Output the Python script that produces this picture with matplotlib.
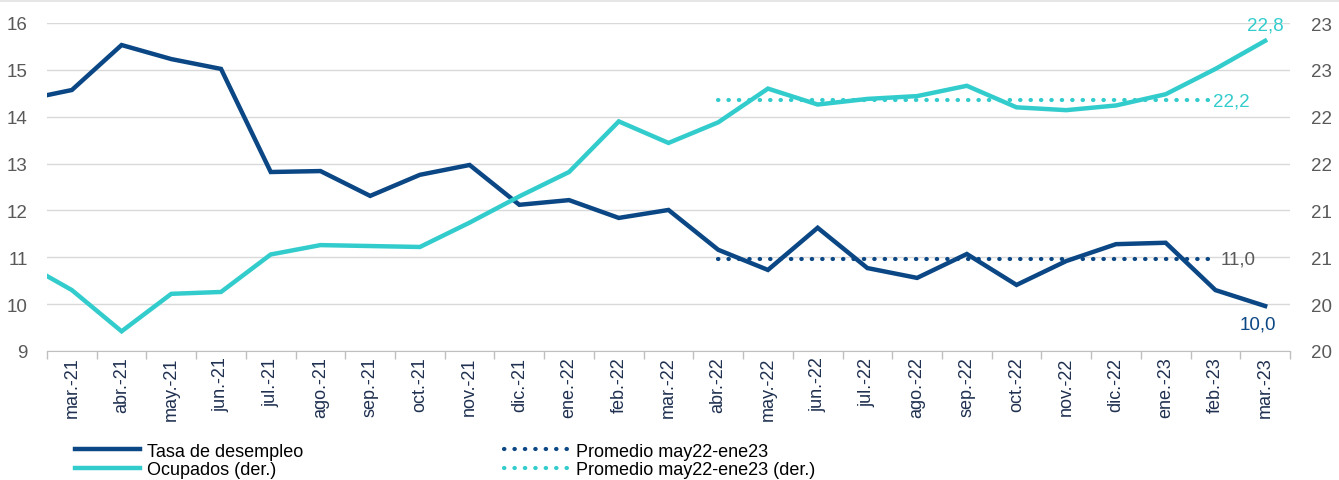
import numpy as np
import matplotlib
matplotlib.use("Agg")
import matplotlib.pyplot as plt
from matplotlib.ticker import FixedLocator, FuncFormatter
from matplotlib.patches import Rectangle

plt.rcParams['font.family'] = ['Liberation Sans', 'DejaVu Sans']

# months (feb.-21 is only the clipped start of the lines at the left edge)
meses = ["feb.-21", "mar.-21", "abr.-21", "may.-21", "jun.-21", "jul.-21", "ago.-21",
         "sep.-21", "oct.-21", "nov.-21", "dic.-21", "ene.-22", "feb.-22", "mar.-22",
         "abr.-22", "may.-22", "jun.-22", "jul.-22", "ago.-22", "sep.-22", "oct.-22",
         "nov.-22", "dic.-22", "ene.-23", "feb.-23", "mar.-23"]

# unemployment rate (%), left axis
desempleo = [14.35, 14.57, 15.53, 15.23, 15.02, 12.82, 12.84, 12.31, 12.76, 12.97,
             12.12, 12.22, 11.84, 12.01, 11.16, 10.73, 11.63, 10.77, 10.56, 11.07,
             10.41, 10.92, 11.28, 11.31, 10.30, 9.96]

# employed (millions), right axis
ocupados = [20.45, 20.15, 19.71, 20.11, 20.13, 20.53, 20.63, 20.62, 20.61, 20.87,
            21.15, 21.41, 21.95, 21.72, 21.94, 22.30, 22.13, 22.19, 22.22, 22.33,
            22.10, 22.07, 22.12, 22.24, 22.51, 22.81]

# averages may22-ene23, drawn from abr.-22 to feb.-23
prom_desempleo = 10.96
prom_ocupados = 22.18
prom_desde, prom_hasta = "abr.-22", "feb.-23"

azul = "#0b4784"
celeste = "#33cccc"
gris = "#595959"

fig = plt.figure(figsize=(13.39, 4.81), dpi=100)
ax = fig.add_axes([47/1339, 1-352/481, (1290-47)/1339, (352-24)/481])
ax2 = ax.twinx()

x = np.arange(len(meses))
i0, i1 = meses.index(prom_desde), meses.index(prom_hasta)

l1, = ax.plot(x, desempleo, color=azul, lw=3.2, solid_joinstyle='miter', zorder=3)
l3, = ax.plot([i0, i1], [prom_desempleo]*2, color=azul, lw=3,
              linestyle=(0, (0.1, 2.4)), dash_capstyle='round', zorder=2)
l2, = ax2.plot(x, ocupados, color=celeste, lw=3.2, solid_joinstyle='miter', zorder=3)
l4, = ax2.plot([i0, i1], [prom_ocupados]*2, color=celeste, lw=3,
               linestyle=(0, (0.1, 2.4)), dash_capstyle='round', zorder=2)

ax.set_xlim(0.5, len(meses) - 0.5)
ax.set_ylim(9, 16)
ax2.set_ylim(19.5, 23)
ax.set_yticks(np.arange(9, 17, 1))
ax2.set_yticks(np.arange(19.5, 23.01, 0.5))
ax2.yaxis.set_major_formatter(FuncFormatter(lambda v, p: "%d" % int(np.floor(v + 0.5))))

ax.grid(axis='y', color='#d9d9d9', lw=1)
ax.set_axisbelow(True)

# ticks between categories, labels at category centres
ax.xaxis.set_major_locator(FixedLocator(np.arange(0.5, len(meses), 1)))
ax.xaxis.set_major_formatter(FuncFormatter(lambda v, p: ""))
ax.xaxis.set_minor_locator(FixedLocator(x[1:]))
ax.set_xticklabels(meses[1:], minor=True, rotation=90, fontsize=13, color='#1f3050')
ax.tick_params(axis='x', which='major', length=6, color='#bfbfbf', width=1)
ax.tick_params(axis='x', which='minor', length=0, pad=4)
ax.tick_params(axis='y', length=0, labelsize=13.5, labelcolor=gris, pad=14)
ax2.tick_params(axis='y', length=0, labelsize=13.5, labelcolor=gris, pad=15)

for a in (ax, ax2):
    for s in ('top', 'left', 'right'):
        a.spines[s].set_visible(False)
ax.spines['bottom'].set_color('#bfbfbf')
ax2.spines['bottom'].set_visible(False)

# value labels
ax2.annotate("22,8", (x[-1], ocupados[-1]), xytext=(0, 5), textcoords='offset points',
             ha='center', va='bottom', fontsize=13.5, color=celeste)
ax2.annotate("22,2", (i1, prom_ocupados), xytext=(-2, -1), textcoords='offset points',
             ha='left', va='center', fontsize=13.5, color=celeste)
ax.annotate("11,0", (i1, prom_desempleo), xytext=(4, 0), textcoords='offset points',
            ha='left', va='center', fontsize=13.5, color=gris)
ax.annotate("10,0", (x[-1], desempleo[-1]), xytext=(-5, -7), textcoords='offset points',
            ha='center', va='top', fontsize=13.5, color=azul)

fig.legend([l1, l2, l3, l4],
           ["Tasa de desempleo", "Ocupados (der.)",
            "Promedio may22-ene23", "Promedio may22-ene23 (der.)"],
           ncol=2, loc='center left', bbox_to_anchor=(75/1339, 1-461.5/481),
           frameon=False, fontsize=13, handlelength=3.6, handletextpad=0.4,
           columnspacing=11.1, labelspacing=0.1, borderaxespad=0, borderpad=0)

fig.add_artist(Rectangle((0, 1-3/481), 1, 3/481, transform=fig.transFigure,
                         color='#e6e6e6', lw=0))

fig.savefig("out.png", dpi=100)
